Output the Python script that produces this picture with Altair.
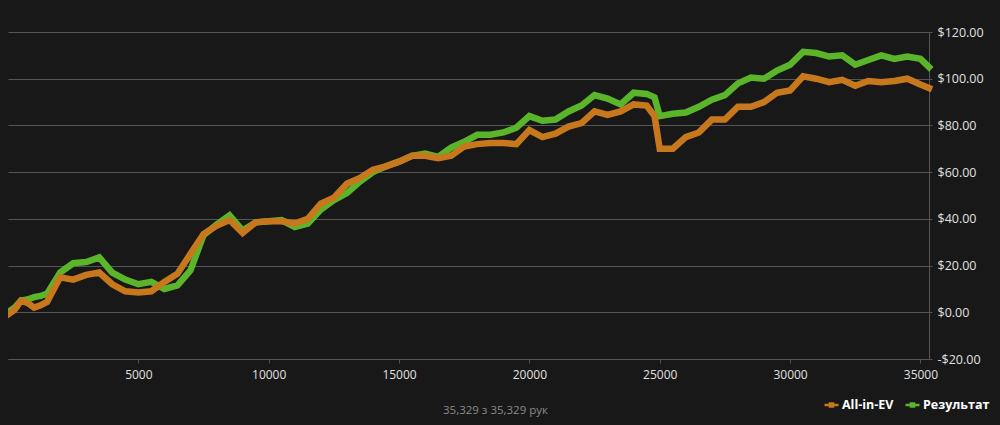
import altair as alt
import pandas as pd

hands = [0, 250, 500, 750, 1000, 1250, 1500, 2000, 2500, 3000, 3500, 4000, 4500, 5000,
         5500, 6000, 6500, 7000, 7500, 8000, 8500, 9000, 9500, 10000, 10500, 11000,
         11500, 12000, 12500, 13000, 13500, 14000, 14500, 15000, 15500, 16000, 16500,
         17000, 17500, 18000, 18500, 19000, 19500, 20000, 20500, 21000, 21500, 22000,
         22500, 23000, 23500, 24000, 24500, 24800, 25000, 25500, 26000, 26500, 27000,
         27500, 28000, 28500, 29000, 29500, 30000, 30500, 31000, 31500, 32000, 32500,
         33000, 33500, 34000, 34500, 35000, 35329]

all_in_ev = [-1, 1, 5, 4, 2, 3, 4.5, 15, 14, 16, 17, 12, 9, 8.5,
             9, 13, 16.5, 25, 33.5, 37, 39.5, 34, 38.5, 39, 39, 38,
             40, 46.5, 49, 55, 57.5, 61, 62.5, 64.5, 67, 67, 66,
             67, 71, 72, 72.5, 72.5, 72, 78, 75, 76.5, 79.5, 81,
             86, 84.5, 86, 89, 88.5, 84, 70, 70, 75, 77, 82.5,
             82.5, 88, 88, 90, 94, 95, 101, 100, 98.5, 99.5, 97,
             99, 98.5, 99, 100, 97.5, 96]

result = [0, 2, 5, 5.5, 6.5, 7, 8, 17, 21, 21.5, 23.5, 17, 14, 12,
          13, 10, 11.5, 18, 33, 37.5, 41.5, 35, 38.5, 39, 39.5, 36.5,
          38, 44, 48, 51, 56, 60, 62.5, 64.5, 67, 68, 66.5,
          70.5, 73, 76, 76, 77, 79, 84, 82, 82.5, 86, 88.5,
          93, 91.5, 89, 94, 93.5, 92, 84, 85, 85.5, 88, 91,
          93, 98, 100.5, 100, 103.5, 106, 111.5, 111, 109.5, 110, 106,
          108, 110, 108.5, 109.5, 108.5, 105]

series_names = ["All-in-EV", "Результат"]
series_colors = ["#c8781c", "#5ab52a"]
y_ticks = [-20, 0, 20, 40, 60, 80, 100, 120]
x_ticks = [5000, 10000, 15000, 20000, 25000, 30000, 35000]
footer = "35,329 з 35,329 рук"

df = pd.concat([
    pd.DataFrame({"hands": hands, "value": all_in_ev, "series": series_names[0]}),
    pd.DataFrame({"hands": hands, "value": result, "series": series_names[1]}),
])

FONT = "Open Sans"
BG = "#181818"
# short line with a small square in the middle (stroked)
legend_symbol = ("M-1,0L1,0"
                 "M-0.22,-0.22L0.22,-0.22L0.22,0.22L-0.22,0.22Z")

x_enc = alt.X("hands:Q",
              scale=alt.Scale(domain=[0, 35329], nice=False, zero=False),
              axis=alt.Axis(values=x_ticks, title=None, grid=False,
                            domainColor="#555555", tickColor="#555555",
                            tickSize=4, labelColor="#e0e0e0", labelFontSize=12,
                            labelFont=FONT, labelPadding=6, format="d"))
y_enc = alt.Y("value:Q",
              scale=alt.Scale(domain=[-20, 120], nice=False, zero=False),
              axis=alt.Axis(orient="right", values=y_ticks, title=None,
                            grid=True, gridColor="#555555", gridWidth=1,
                            domainColor="#555555", tickColor="#555555",
                            tickSize=3, labelColor="#e0e0e0", labelFontSize=12.5,
                            labelFont=FONT, labelPadding=5,
                            labelExpr="datum.value < 0 ? '-$' + format(-datum.value, '.2f') : '$' + format(datum.value, '.2f')"))
color_enc = alt.Color("series:N",
                      scale=alt.Scale(domain=series_names, range=series_colors),
                      legend=alt.Legend(orient="none", legendX=815, legendY=364,
                                        direction="horizontal", title=None,
                                        padding=0,
                                        symbolType=legend_symbol, symbolSize=196,
                                        symbolStrokeWidth=2.5, symbolOpacity=1,
                                        labelColor="#ffffff", labelFontSize=12.5,
                                        labelFont=FONT, labelFontWeight="bold",
                                        labelLimit=200,
                                        columnPadding=6, labelOffset=2))

base = alt.Chart(df).encode(x=x_enc, y=y_enc, color=color_enc)

green = base.transform_filter(alt.datum.series == series_names[1]).mark_line(
    strokeWidth=6.5, strokeJoin="miter", strokeCap="square")
orange = base.transform_filter(alt.datum.series == series_names[0]).mark_line(
    strokeWidth=6.5, strokeJoin="miter", strokeCap="square")

chart = alt.layer(green, orange).properties(
    width=921, height=327,
    background=BG,
    padding={"left": 0, "top": 24, "right": 63, "bottom": 58},
    autosize=alt.AutoSizeParams(type="none"),
    title=alt.TitleParams(footer, orient="bottom", anchor="middle",
                          color="#8a8a8a", fontSize=11.5, fontWeight="normal",
                          font=FONT, offset=-7, dx=27),
).configure_view(stroke=None, fill=BG)

# Give the page margin the same dark background as the chart.
try:
    import altair.utils.html as _ah

    class _DarkPage:
        def __init__(self, inner):
            self.inner = inner

        def render(self, *args, **kwargs):
            html = self.inner.render(*args, **kwargs)
            style = "<style>html, body { background: %s; }</style>" % BG
            if "<head>" in html:
                return html.replace("<head>", "<head>" + style, 1)
            return style + html

    if hasattr(_ah, "TEMPLATES") and "standard" in _ah.TEMPLATES:
        _ah.TEMPLATES["standard"] = _DarkPage(_ah.TEMPLATES["standard"])
except Exception:
    pass

chart.save("out.html", embed_options={"renderer": "svg", "actions": False})
